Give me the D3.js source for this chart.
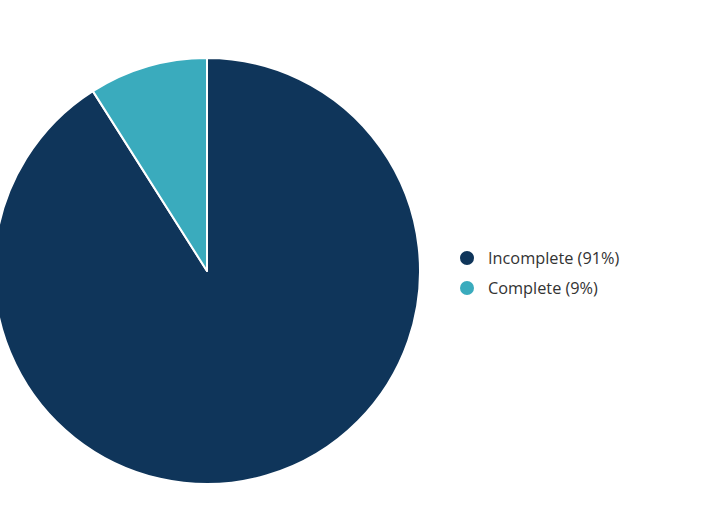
<!DOCTYPE html>
<html>
<head>
<meta charset="utf-8">
<script src="https://cdn.jsdelivr.net/npm/d3@7"></script>
<style>
  body { margin: 0; background: #fff; }
  svg text { font-family: "Open Sans", sans-serif; }
</style>
</head>
<body>
<svg id="chart"></svg>
<script>
// Data
const categories = ["Incomplete", "Complete"];
const values = [91, 9];
const colors = ["#0f355a", "#3aabbd"];

const width = 704;
const height = 519;
const cx = 207, cy = 271, radius = 213;

const svg = d3.select("#chart")
    .attr("width", width)
    .attr("height", height);

const data = categories.map((c, i) => ({ name: c, value: values[i], color: colors[i] }));

const pie = d3.pie()
    .value(d => d.value)
    .sort(null);

const arc = d3.arc()
    .innerRadius(0)
    .outerRadius(radius);

const g = svg.append("g")
    .attr("transform", `translate(${cx},${cy})`);

g.selectAll("path")
    .data(pie(data))
    .enter().append("path")
    .attr("d", arc)
    .attr("fill", d => d.data.color)
    .attr("stroke", "#fff")
    .attr("stroke-width", 2)
    .attr("stroke-linejoin", "round");

// Legend
const legend = svg.append("g")
    .attr("transform", "translate(467,258)");

const items = legend.selectAll("g")
    .data(data)
    .enter().append("g")
    .attr("transform", (d, i) => `translate(0,${i * 30})`);

items.append("circle")
    .attr("r", 7)
    .attr("fill", d => d.color);

items.append("text")
    .attr("x", 21)
    .attr("y", 0)
    .attr("dy", "0.35em")
    .attr("font-size", 16.3)
    .attr("fill", "#333")
    .text(d => `${d.name} (${d.value}%)`);
</script>
</body>
</html>
